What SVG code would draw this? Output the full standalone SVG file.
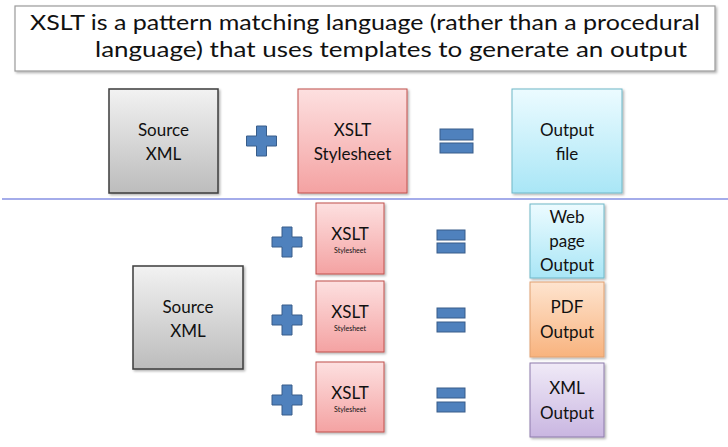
<svg xmlns="http://www.w3.org/2000/svg" width="728" height="447" viewBox="0 0 728 447">
<defs>
<linearGradient id="gGray" x1="0" y1="0" x2="0" y2="1"><stop offset="0" stop-color="#f2f2f2"/><stop offset="1" stop-color="#bcbcbc"/></linearGradient>
<linearGradient id="gPink" x1="0" y1="0" x2="0" y2="1"><stop offset="0" stop-color="#fde0e0"/><stop offset="1" stop-color="#f4a2a2"/></linearGradient>
<linearGradient id="gCyan" x1="0" y1="0" x2="0" y2="1"><stop offset="0" stop-color="#ecfbff"/><stop offset="1" stop-color="#a9e6f6"/></linearGradient>
<linearGradient id="gOrange" x1="0" y1="0" x2="0" y2="1"><stop offset="0" stop-color="#fee4cf"/><stop offset="1" stop-color="#f8b37e"/></linearGradient>
<linearGradient id="gPurple" x1="0" y1="0" x2="0" y2="1"><stop offset="0" stop-color="#f0eaf7"/><stop offset="1" stop-color="#c9b6e1"/></linearGradient>
<filter id="sh" x="-10%" y="-10%" width="125%" height="125%"><feDropShadow dx="1.5" dy="1.5" stdDeviation="1.2" flood-color="#000" flood-opacity="0.3"/></filter>
<path id="plus" d="M-5,-15 H5 V-5 H15 V5 H5 V15 H-5 V5 H-15 V-5 H-5 Z"/>
</defs>
<style>
text{font-family:Lato,"Open Sans","Liberation Sans",sans-serif;fill:#111;text-anchor:middle}
.t{font-size:22px;text-anchor:start}
.b{font-size:17px}
.s{font-size:7px}
.gray{fill:url(#gGray);stroke:#3c3c3c;stroke-width:1.5}
.pink{fill:url(#gPink);stroke:#c0504d;stroke-width:1}
.cyan{fill:url(#gCyan);stroke:#6fb7c8;stroke-width:1}
.orange{fill:url(#gOrange);stroke:#e0a070;stroke-width:1}
.purple{fill:url(#gPurple);stroke:#8d7bab;stroke-width:1}
.op{fill:#4f81bd;stroke:#385d8a;stroke-width:1}
</style>
<rect width="728" height="447" fill="#fff"/>
<g id="title">
<rect x="15" y="6" width="700" height="65" fill="#fff" stroke="#9a9a9a" stroke-width="1.2" filter="url(#sh)"/>
<text class="t" x="30" y="30" textLength="670" lengthAdjust="spacingAndGlyphs">XSLT is a pattern matching language (rather than a procedural</text>
<text class="t" x="95" y="57" textLength="592" lengthAdjust="spacingAndGlyphs">language) that uses templates to generate an output</text>
</g>
<g id="connectors">
<line x1="2" y1="199" x2="728" y2="199" stroke="#a4acea" stroke-width="2"/>
</g>
<g id="src-top">
<rect class="gray" x="109" y="89" width="109" height="104" filter="url(#sh)"/>
<text class="b" x="163.5" y="136">Source</text>
<text class="b" x="163.5" y="160">XML</text>
</g>
<g id="plus-top"><use href="#plus" class="op" x="261.5" y="141"/></g>
<g id="xslt-top">
<rect class="pink" x="298" y="89" width="109" height="104" filter="url(#sh)"/>
<text class="b" x="352.5" y="136">XSLT</text>
<text class="b" x="352.5" y="160">Stylesheet</text>
</g>
<g id="eq-top">
<rect class="op" x="440" y="129" width="33" height="11"/>
<rect class="op" x="440" y="143" width="33" height="10"/>
</g>
<g id="out-top">
<rect class="cyan" x="512" y="89" width="110" height="104" filter="url(#sh)"/>
<text class="b" x="567" y="136">Output</text>
<text class="b" x="567" y="160">file</text>
</g>
<g id="src-bottom">
<rect class="gray" x="133" y="266" width="110" height="103" filter="url(#sh)"/>
<text class="b" x="188" y="313">Source</text>
<text class="b" x="188" y="337">XML</text>
</g>
<g id="plus-1"><use href="#plus" class="op" x="287" y="242"/></g>
<g id="plus-2"><use href="#plus" class="op" x="287" y="320"/></g>
<g id="plus-3"><use href="#plus" class="op" x="287" y="400"/></g>
<g id="xslt-1">
<rect class="pink" x="316" y="203" width="68" height="71" filter="url(#sh)"/>
<text class="b" x="350" y="240">XSLT</text>
<text class="s" x="350" y="253">Stylesheet</text>
</g>
<g id="xslt-2">
<rect class="pink" x="316" y="281" width="68" height="71" filter="url(#sh)"/>
<text class="b" x="350" y="318">XSLT</text>
<text class="s" x="350" y="331">Stylesheet</text>
</g>
<g id="xslt-3">
<rect class="pink" x="316" y="362" width="68" height="70" filter="url(#sh)"/>
<text class="b" x="350" y="399">XSLT</text>
<text class="s" x="350" y="412">Stylesheet</text>
</g>
<g id="eq-1">
<rect class="op" x="437" y="230" width="28" height="10"/>
<rect class="op" x="437" y="243" width="28" height="10"/>
</g>
<g id="eq-2">
<rect class="op" x="437" y="308" width="28" height="10"/>
<rect class="op" x="437" y="322" width="28" height="10"/>
</g>
<g id="eq-3">
<rect class="op" x="437" y="388" width="28" height="10"/>
<rect class="op" x="437" y="402" width="28" height="10"/>
</g>
<g id="out-web">
<rect class="cyan" x="530" y="204" width="74" height="74" filter="url(#sh)"/>
<text class="b" x="567" y="223">Web</text>
<text class="b" x="567" y="247">page</text>
<text class="b" x="567" y="271">Output</text>
</g>
<g id="out-pdf">
<rect class="orange" x="530" y="282" width="74" height="75" filter="url(#sh)"/>
<text class="b" x="567" y="313">PDF</text>
<text class="b" x="567" y="338">Output</text>
</g>
<g id="out-xml">
<rect class="purple" x="530" y="363" width="74" height="74" filter="url(#sh)"/>
<text class="b" x="567" y="394">XML</text>
<text class="b" x="567" y="419">Output</text>
</g>
</svg>
